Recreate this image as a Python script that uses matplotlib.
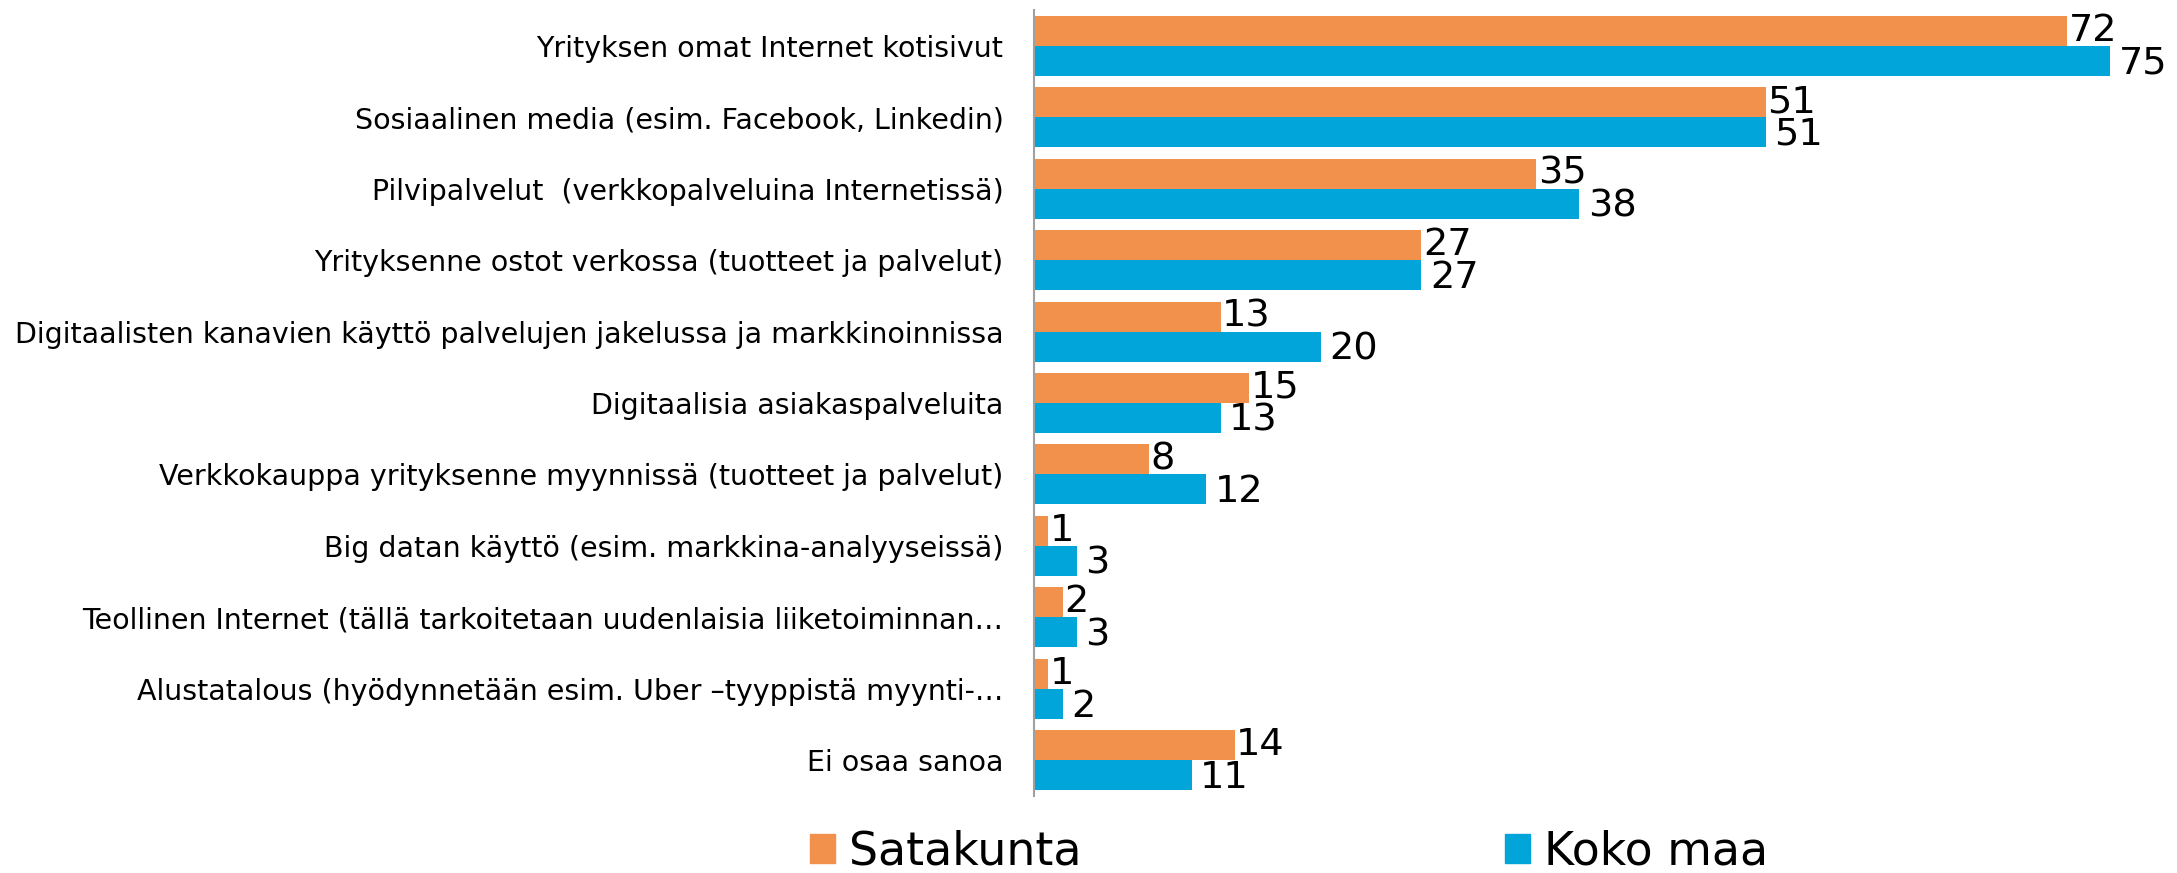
import matplotlib
matplotlib.use("Agg")
from matplotlib import pyplot as plt
from matplotlib.patches import Patch

categories = [
    "Yrityksen omat Internet kotisivut",
    "Sosiaalinen media (esim. Facebook, Linkedin)",
    "Pilvipalvelut  (verkkopalveluina Internetissä)",
    "Yrityksenne ostot verkossa (tuotteet ja palvelut)",
    "Digitaalisten kanavien käyttö palvelujen jakelussa ja markkinoinnissa",
    "Digitaalisia asiakaspalveluita",
    "Verkkokauppa yrityksenne myynnissä (tuotteet ja palvelut)",
    "Big datan käyttö (esim. markkina-analyyseissä)",
    "Teollinen Internet (tällä tarkoitetaan uudenlaisia liiketoiminnan…",
    "Alustatalous (hyödynnetään esim. Uber –tyyppistä myynti-…",
    "Ei osaa sanoa",
]
satakunta = [72, 51, 35, 27, 13, 15, 8, 1, 2, 1, 14]
koko_maa = [75, 51, 38, 27, 20, 13, 12, 3, 3, 2, 11]
series_names = ["Satakunta", "Koko maa"]

ORANGE = "#F1914C"
BLUE = "#02A5DA"

plt.rcParams['font.family'] = ['DejaVu Sans']

W, H = 2177, 873
fig = plt.figure(figsize=(W / 100, H / 100), dpi=100)
ax = fig.add_axes([1034 / W, 1 - 796 / H, (W - 1034) / W, (796 - 10) / H])

pos = list(range(len(categories)))
h = 0.42
ax.barh([p - h / 2 for p in pos], satakunta, height=h, color=ORANGE)
ax.barh([p + h / 2 for p in pos], koko_maa, height=h, color=BLUE)

# value labels just right of each bar
for p, a, b in zip(pos, satakunta, koko_maa):
    ax.annotate(str(a), xy=(a, p - h / 2), xytext=(1, 0), textcoords='offset points',
                va='center', ha='left', fontsize=27.5)
    ax.annotate(str(b), xy=(b, p + h / 2), xytext=(6, -2), textcoords='offset points',
                va='center', ha='left', fontsize=27.5)

ax.set_xlim(0, (W - 1034) / 14.35)
ax.set_ylim(10.5, -0.5)
ax.set_yticks(pos)
ax.set_yticklabels(categories, fontsize=20.5)
ax.tick_params(axis='y', length=0, pad=22)
ax.set_xticks([])
for s in ['top', 'right', 'bottom']:
    ax.spines[s].set_visible(False)
ax.spines['left'].set_color('#A0A0A0')
ax.spines['left'].set_linewidth(1.5)

# legend entries placed separately
for name, col, x in zip(series_names, [ORANGE, BLUE], [810, 1505]):
    fig.legend(handles=[Patch(color=col)], labels=[name], loc='center left',
               bbox_to_anchor=(x / W, 1 - 852 / H), frameon=False, fontsize=33,
               handlelength=0.55, handleheight=0.6, handletextpad=0.3,
               borderpad=0, borderaxespad=0)

fig.savefig("out.png", dpi=100)
